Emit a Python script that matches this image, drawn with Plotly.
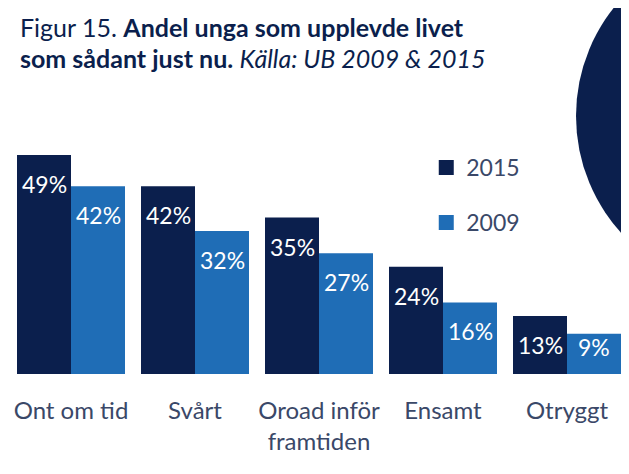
import plotly.graph_objects as go

categories = ["Ont om tid", "Svårt", "Oroad inför<br>framtiden", "Ensamt", "Otryggt"]
values_2015 = [49, 42, 35, 24, 13]
values_2009 = [42, 32, 27, 16, 9]
series_names = ["2015", "2009"]
title_line1 = "Figur 15. <b>Andel unga som upplevde livet</b>"
title_line2 = "<b>som sådant just nu.</b> <i>Källa: UB 2009 &amp; 2015</i>"

DARK = "#0b1f4d"
LIGHT = "#1f6db6"
TEXT = "#3a4868"
FONT = "Lato"

W, H = 621, 466  # page body has an 8px margin
T, B = 92, 100
PLOT_H = H - T - B
YMAX = 61.3
PX_PER_UNIT = PLOT_H / YMAX

fig = go.Figure()
for name, vals, col in [(series_names[0], values_2015, DARK), (series_names[1], values_2009, LIGHT)]:
    fig.add_trace(go.Bar(x=categories, y=vals, name=name, marker=dict(color=col, line=dict(width=0)),
                         showlegend=False, hoverinfo="skip"))
# legend entries
for name, col in [(series_names[0], DARK), (series_names[1], LIGHT)]:
    fig.add_trace(go.Scatter(x=[None], y=[None], mode="markers", name=name, legendgroup=name,
                             marker=dict(symbol="square", size=15, color=col)))

# value labels inside bars (short bars: label centred in the bar)
for vals, shift in [(values_2015, -27), (values_2009, 27)]:
    for c, v in zip(categories, vals):
        if v * PX_PER_UNIT >= 50:
            kw = dict(y=v, yanchor="top", yshift=-13)
        else:
            kw = dict(y=v / 2, yanchor="middle", yshift=7)
        fig.add_annotation(x=c, xref="x", yref="y", text=f"{v}%", showarrow=False,
                           xshift=shift, font=dict(family=FONT, size=23, color="white"), **kw)

# title lines
for txt, ypx in [(title_line1, 19), (title_line2, 50)]:
    fig.add_annotation(xref="paper", yref="paper", x=9 / 620, y=1 + (T - ypx) / PLOT_H,
                       xanchor="left", yanchor="middle", showarrow=False, text=txt,
                       font=dict(family=FONT, size=25, color=DARK))

fig.add_shape(type="circle", xref="paper", yref="paper", xsizemode="pixel", ysizemode="pixel",
              xanchor=1, yanchor=1, x0=-53, x1=295, y0=-190, y1=158,
              fillcolor=DARK, line=dict(width=0), layer="below")

fig.update_layout(
    width=W, height=H,
    margin=dict(l=1, r=0, t=T, b=B),
    paper_bgcolor="white", plot_bgcolor="rgba(0,0,0,0)",
    barmode="group", bargap=0.129, bargroupgap=0,
    legend=dict(x=0.673, y=0.832, xanchor="left", yanchor="top", bgcolor="rgba(0,0,0,0)",
                font=dict(family=FONT, size=23, color=TEXT), tracegroupgap=22, itemwidth=30),
    xaxis=dict(showline=False, showgrid=False, ticks="outside", ticklen=15, tickcolor="rgba(0,0,0,0)",
               tickfont=dict(family=FONT, size=24, color=TEXT), fixedrange=True),
    yaxis=dict(range=[0, YMAX], visible=False, fixedrange=True),
    showlegend=True,
)

fig.write_html("out.html")
